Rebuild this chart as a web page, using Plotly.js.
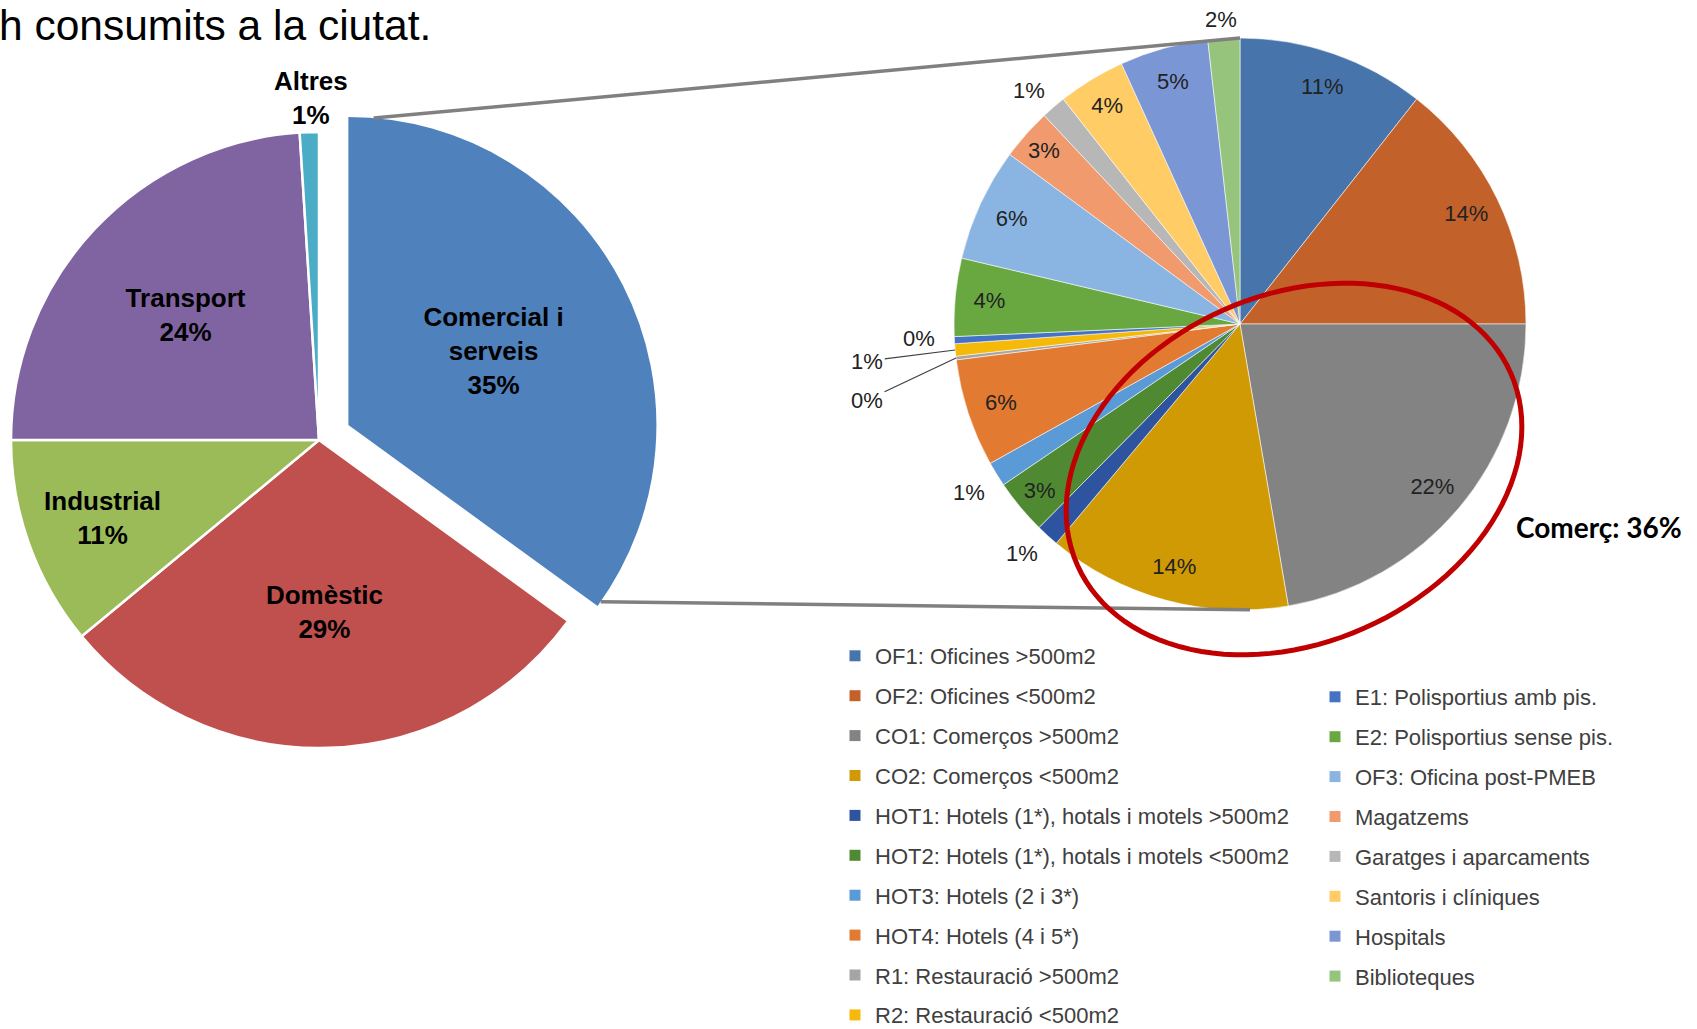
<!DOCTYPE html>
<html>
<head>
<meta charset="utf-8">
<script src="https://cdn.plot.ly/plotly-3.0.1.min.js"></script>
<style>
  html, body { margin: 0; padding: 0; background: #ffffff; }
  #chart { width: 1697px; height: 1029px; }
</style>
</head>
<body>
<div id="chart"></div>
<script>
// ---------- DATA ----------
// Left pie: energy consumed in the city by sector (%)
const sectors = ['Comercial i serveis', 'Domèstic', 'Industrial', 'Transport', 'Altres'];
const sectorLabelLines = ['Comercial i<br>serveis', 'Domèstic', 'Industrial', 'Transport', 'Altres'];
const sectorShares = [35, 29, 11, 24, 1];
const sectorColors = ['#4F81BD', '#C0504D', '#9BBB59', '#8064A2', '#4BACC6'];

// Right pie: breakdown of "Comercial i serveis" by building use (%)
const uses = [
  'OF1: Oficines >500m2',
  'OF2: Oficines <500m2',
  'CO1: Comerços >500m2',
  'CO2: Comerços <500m2',
  'HOT1: Hotels (1*), hotals i motels >500m2',
  'HOT2: Hotels (1*), hotals i motels <500m2',
  'HOT3: Hotels (2 i 3*)',
  'HOT4: Hotels (4 i 5*)',
  'R1: Restauració >500m2',
  'R2: Restauració <500m2',
  'E1: Polisportius amb pis.',
  'E2: Polisportius sense pis.',
  'OF3: Oficina post-PMEB',
  'Magatzems',
  'Garatges i aparcaments',
  'Santoris i clíniques',
  'Hospitals',
  'Biblioteques'
];
const useShares = [10.6, 14.4, 22.3, 13.8, 1.3, 3.1, 1.4, 6.1, 0.2, 0.7, 0.4, 4.4, 6.4, 2.9, 1.4, 3.8, 5.0, 1.8];
const useColors = ['#4775AB', '#C2622A', '#838383', '#CF9A04', '#2E54A0', '#4F8A32',
                   '#5A9AD6', '#E27A32', '#A5A5A5', '#F5B90A', '#4472C4', '#69A840',
                   '#8AB4E2', '#F09A6E', '#B7B7B7', '#FFCC66', '#7B96D5', '#97C47D'];
const commerceUses = ['CO1: Comerços >500m2', 'CO2: Comerços <500m2'];
const firstLegendColumnCount = 10;

// ---------- GEOMETRY / STYLE (layout, in pixels) ----------
const W = 1697, H = 1029;
const px = x => x / W;
const py = y => 1 - y / H;
const leftPie = { cx: 319, cy: 440, r: 308, explodePx: 33 };
const rightPie = { cx: 1240, cy: 324, r: 286 };
// outside labels: label centre offset (px) from the rim point at the slice's mid-angle
const outsideSectorLabels = { 'Altres': [1.5, -34] };
const outsideUseLabels = {
  'HOT1: Hotels (1*), hotals i motels >500m2': [-26, 18],
  'HOT3: Hotels (2 i 3*)': [-28, 18],
  'E1: Polisportius amb pis.': [-35, -2],
  'Garatges i aparcaments': [-25, -17],
  'Biblioteques': [-3, -19]
};
// outside labels with leader lines: label offset (px) from the rim point
const leaderUseLabels = { 'R2: Restauració <500m2': [-88, 11], 'R1: Restauració >500m2': [-89, 42] };

function domainFor(c) {
  return { x: [px(c.cx - c.r), px(c.cx + c.r)], y: [py(c.cy + c.r), py(c.cy - c.r)] };
}
function pointOn(c, angleDeg) {
  const a = angleDeg * Math.PI / 180;
  return { x: c.cx + c.r * Math.sin(a), y: c.cy - c.r * Math.cos(a) };
}
function midAngle(vals, i) {
  const tot = vals.reduce((a, b) => a + b, 0);
  const before = vals.slice(0, i).reduce((a, b) => a + b, 0);
  return (before + vals[i] / 2) / tot * 360;
}
function pctText(vals, i) {
  const tot = vals.reduce((a, b) => a + b, 0);
  return Math.round(vals[i] / tot * 100) + '%';
}

const sectorTotal = sectorShares.reduce((a, b) => a + b, 0);
const explodedSpan = sectorShares[0] / sectorTotal * 360;
const explodedMid = explodedSpan / 2 * Math.PI / 180;
const explodedPie = {
  cx: leftPie.cx + leftPie.explodePx * Math.sin(explodedMid),
  cy: leftPie.cy - leftPie.explodePx * Math.cos(explodedMid),
  r: leftPie.r
};

const FONT = 'Liberation Sans, Arial, sans-serif';
const labelFont = { family: FONT, size: 26, color: '#000000', weight: 'bold' };
const pctFont = { family: FONT, size: 22, color: '#222222' };

// ---------- TRACES ----------
const traces = [];

// Left pie (the exploded sector is drawn by the next trace)
traces.push({
  type: 'pie',
  values: sectorShares,
  labels: sectors,
  sort: false,
  direction: 'clockwise',
  rotation: 0,
  domain: domainFor(leftPie),
  marker: {
    colors: sectorColors.map((c, i) => i === 0 ? 'rgba(0,0,0,0)' : c),
    line: { color: '#ffffff', width: sectorShares.map((v, i) => i === 0 ? 0 : 2.5) }
  },
  texttemplate: sectorLabelLines.map((s, i) =>
    (i === 0 || outsideSectorLabels[sectors[i]]) ? '' : s + '<br>%{percent:.0%}'),
  textposition: 'inside',
  insidetextorientation: 'horizontal',
  textfont: labelFont,
  insidetextfont: labelFont,
  showlegend: false,
  hoverinfo: 'none'
});

// Exploded "Comercial i serveis" sector
traces.push({
  type: 'pie',
  values: [sectorShares[0], sectorTotal - sectorShares[0]],
  labels: [sectors[0], 'resta'],
  sort: false,
  direction: 'clockwise',
  rotation: 0,
  domain: domainFor(explodedPie),
  marker: { colors: [sectorColors[0], 'rgba(0,0,0,0)'], line: { width: 0 } },
  texttemplate: [sectorLabelLines[0] + '<br>%{percent:.0%}', ''],
  textposition: 'inside',
  insidetextorientation: 'horizontal',
  textfont: labelFont,
  insidetextfont: labelFont,
  showlegend: false,
  hoverinfo: 'none'
});

// Right pie: colored slices
traces.push({
  type: 'pie',
  values: useShares,
  labels: uses,
  sort: false,
  direction: 'clockwise',
  rotation: 0,
  domain: domainFor(rightPie),
  marker: { colors: useColors, line: { color: 'rgba(255,255,255,0.55)', width: 1 } },
  textinfo: 'none',
  showlegend: false,
  hoverinfo: 'label+percent'
});

// Right pie: inside percentage labels, placed near the rim
traces.push({
  type: 'pie',
  values: useShares,
  labels: uses,
  sort: false,
  direction: 'clockwise',
  rotation: 0,
  hole: 0.76,
  domain: domainFor(rightPie),
  marker: { colors: useShares.map(() => 'rgba(0,0,0,0)'), line: { width: 0 } },
  texttemplate: uses.map(u =>
    (outsideUseLabels[u] || leaderUseLabels[u]) ? '' : '%{percent:.0%}'),
  textposition: 'inside',
  insidetextorientation: 'horizontal',
  textfont: pctFont,
  insidetextfont: pctFont,
  showlegend: false,
  hoverinfo: 'none'
});

// Legend entries for the right pie (two columns)
uses.forEach((u, i) => {
  traces.push({
    type: 'scatter',
    mode: 'markers',
    x: [null], y: [null],
    name: u,
    legend: i < firstLegendColumnCount ? 'legend' : 'legend2',
    legendgroup: 'g' + i,
    marker: { symbol: 'square', size: 11, color: useColors[i] },
    hoverinfo: 'skip',
    showlegend: true
  });
});

// ---------- SHAPES ----------
const lineStart1 = pointOn(explodedPie, 4.7);
const lineEnd1 = pointOn(rightPie, 0);
const lineStart2 = pointOn(explodedPie, explodedSpan - 1);
const lineEnd2 = pointOn(rightPie, 178);

const ellipse = { cx: 1294, cy: 469, a: 237, b: 174, tiltDeg: 23.9 };
function ellipsePath(e) {
  const th = e.tiltDeg * Math.PI / 180;
  const pts = [];
  for (let k = 0; k <= 120; k++) {
    const t = k / 120 * 2 * Math.PI;
    const x = e.cx + e.a * Math.cos(t) * Math.cos(th) - e.b * Math.sin(t) * Math.sin(th);
    const y = e.cy - (e.a * Math.cos(t) * Math.sin(th) + e.b * Math.sin(t) * Math.cos(th));
    pts.push((k === 0 ? 'M' : 'L') + px(x).toFixed(5) + ',' + py(y).toFixed(5));
  }
  return pts.join(' ') + ' Z';
}

const shapes = [
  { type: 'line', xref: 'paper', yref: 'paper',
    x0: px(lineStart1.x), y0: py(lineStart1.y), x1: px(lineEnd1.x), y1: py(lineEnd1.y),
    line: { color: '#808080', width: 3.5 } },
  { type: 'line', xref: 'paper', yref: 'paper',
    x0: px(lineStart2.x), y0: py(lineStart2.y), x1: px(lineEnd2.x), y1: py(lineEnd2.y),
    line: { color: '#808080', width: 3.5 } },
  { type: 'path', xref: 'paper', yref: 'paper', path: ellipsePath(ellipse),
    line: { color: '#C00000', width: 5 }, fillcolor: 'rgba(0,0,0,0)' }
];

// ---------- ANNOTATIONS ----------
const commerceShare = Math.round(commerceUses.reduce((s, u) => s + useShares[uses.indexOf(u)], 0));
const annotations = [
  { text: 'h consumits a la ciutat.', xref: 'paper', yref: 'paper',
    x: px(-3), xanchor: 'left', y: py(26), yanchor: 'middle', showarrow: false,
    font: { family: FONT, size: 42.5, color: '#000000' } },
  { text: 'Comerç: ' + commerceShare + '%', xref: 'paper', yref: 'paper',
    x: px(1599), xanchor: 'center', y: py(527), yanchor: 'middle', showarrow: false,
    font: { family: 'Lato, Liberation Sans, sans-serif', size: 28, color: '#000000', weight: 'bold' } }
];
// outside labels of the left pie
Object.keys(outsideSectorLabels).forEach(s => {
  const i = sectors.indexOf(s);
  const p = pointOn(leftPie, midAngle(sectorShares, i));
  const off = outsideSectorLabels[s];
  annotations.push({ text: sectorLabelLines[i] + '<br>' + pctText(sectorShares, i),
    xref: 'paper', yref: 'paper', x: px(p.x + off[0]), y: py(p.y + off[1]),
    xanchor: 'center', yanchor: 'middle', showarrow: false, font: labelFont });
});
// outside labels of the right pie
Object.keys(outsideUseLabels).forEach(u => {
  const i = uses.indexOf(u);
  const p = pointOn(rightPie, midAngle(useShares, i));
  const off = outsideUseLabels[u];
  annotations.push({ text: pctText(useShares, i),
    xref: 'paper', yref: 'paper', x: px(p.x + off[0]), y: py(p.y + off[1]),
    xanchor: 'center', yanchor: 'middle', showarrow: false, font: pctFont });
});
// labels with leader lines
Object.keys(leaderUseLabels).forEach(u => {
  const i = uses.indexOf(u);
  const p = pointOn(rightPie, midAngle(useShares, i));
  const off = leaderUseLabels[u];
  annotations.push({ text: pctText(useShares, i),
    xref: 'paper', yref: 'paper', x: px(p.x), y: py(p.y),
    ax: off[0], ay: off[1], axref: 'pixel', ayref: 'pixel',
    showarrow: true, arrowhead: 0, arrowwidth: 1.2, arrowcolor: '#404040', standoff: 0,
    font: pctFont });
});

const legendFont = { family: FONT, size: 22, color: '#404040' };
const layout = {
  width: W, height: H,
  margin: { l: 0, r: 0, t: 0, b: 0, pad: 0, autoexpand: false },
  paper_bgcolor: '#ffffff',
  plot_bgcolor: 'rgba(0,0,0,0)',
  showlegend: true,
  xaxis: { visible: false, range: [0, 1], fixedrange: true },
  yaxis: { visible: false, range: [0, 1], fixedrange: true },
  legend: { x: px(835), xanchor: 'left', y: py(635), yanchor: 'top',
            font: legendFont, bgcolor: 'rgba(0,0,0,0)', tracegroupgap: 8.3,
            traceorder: 'grouped', itemclick: false, itemdoubleclick: false },
  legend2: { x: px(1315), xanchor: 'left', y: py(676), yanchor: 'top',
             font: legendFont, bgcolor: 'rgba(0,0,0,0)', tracegroupgap: 8.3,
             traceorder: 'grouped', itemclick: false, itemdoubleclick: false },
  shapes: shapes,
  annotations: annotations
};

Plotly.newPlot('chart', traces, layout, { displayModeBar: false, staticPlot: true });
</script>
</body>
</html>
